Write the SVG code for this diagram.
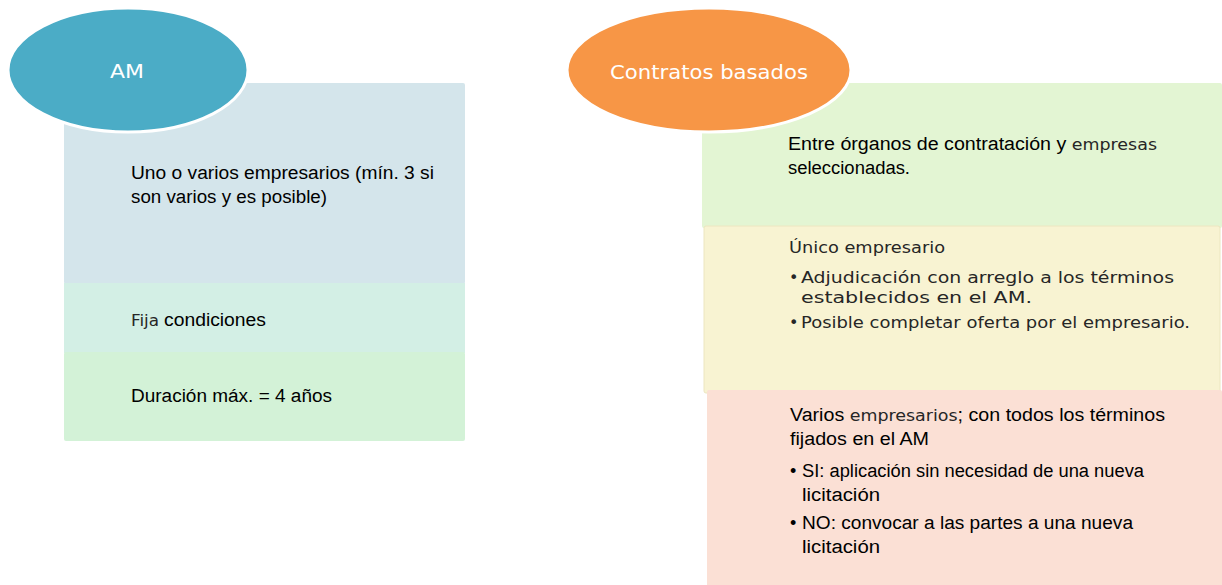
<svg xmlns="http://www.w3.org/2000/svg" width="1222" height="585" viewBox="0 0 1222 585">
<style>
.c{font-family:"Liberation Sans",Arial,sans-serif;font-size:18px;fill:#000}
.g{font-family:"DejaVu Sans","Liberation Sans",sans-serif;fill:#262626;font-size:16px}
.h{font-family:"DejaVu Sans","Liberation Sans",sans-serif;font-size:20px;fill:#fff}
.box{stroke:none}
.ell{stroke:#fff;stroke-width:3}
</style>
<rect width="1222" height="585" fill="#fff"/>
<g id="am-box1"><rect class="box" x="64" y="83" width="401" height="201" rx="2" fill="#d4e5eb"/>
<text class="c" x="131" y="179" textLength="303" lengthAdjust="spacingAndGlyphs">Uno o varios empresarios (mín. 3 si</text>
<text class="c" x="131" y="203" textLength="196" lengthAdjust="spacingAndGlyphs">son varios y es posible)</text></g>
<g id="am-box2"><rect class="box" x="64" y="283" width="401" height="70" fill="#d3efe5"/>
<text class="c" x="131" y="326"><tspan class="g" textLength="28" lengthAdjust="spacingAndGlyphs">Fija</tspan><tspan x="164" textLength="102" lengthAdjust="spacingAndGlyphs">condiciones</tspan></text></g>
<g id="am-box3"><rect class="box" x="64" y="352" width="401" height="89" rx="2" fill="#d3f2d7"/>
<text class="c" x="131" y="402" textLength="201" lengthAdjust="spacingAndGlyphs">Duración máx. = 4 años</text></g>
<g id="am"><ellipse class="ell" cx="128" cy="70" rx="120" ry="62" fill="#4bacc6"/>
<text class="h" x="127" y="78" text-anchor="middle" textLength="34" lengthAdjust="spacingAndGlyphs">AM</text></g>

<g id="cb-box1"><rect class="box" x="702" y="83" width="520" height="145" rx="2" fill="#e3f5d3"/>
<text class="c" x="788" y="150" textLength="369" lengthAdjust="spacingAndGlyphs">Entre órganos de contratación y <tspan class="g">empresas</tspan></text>
<text class="c" x="788" y="174" textLength="122" lengthAdjust="spacingAndGlyphs">seleccionadas.</text></g>
<g id="cb-box2"><rect x="704" y="226" width="516" height="167" rx="2" fill="#f8f3d2" stroke="#ece6c0" stroke-width="1"/>
<text class="g" x="789" y="253" textLength="156" lengthAdjust="spacingAndGlyphs">Único empresario</text>
<text class="g" x="789" y="283">•<tspan x="801" textLength="373" lengthAdjust="spacingAndGlyphs">Adjudicación con arreglo a los términos</tspan></text>
<text class="g" x="801" y="303" textLength="231" lengthAdjust="spacingAndGlyphs">establecidos en el AM.</text>
<text class="g" x="789" y="328">•<tspan x="801" textLength="389" lengthAdjust="spacingAndGlyphs">Posible completar oferta por el empresario.</tspan></text></g>
<g id="cb-box3"><rect class="box" x="707" y="390" width="515" height="200" rx="2" fill="#fbe0d5"/>
<text class="c" x="790" y="421" textLength="375" lengthAdjust="spacingAndGlyphs">Varios <tspan class="g">empresarios</tspan>; con todos los términos</text>
<text class="c" x="790" y="445" textLength="139" lengthAdjust="spacingAndGlyphs">fijados en el AM</text>
<text class="c" x="790" y="477">•<tspan x="802" textLength="342" lengthAdjust="spacingAndGlyphs">SI: aplicación sin necesidad de una nueva</tspan></text>
<text class="c" x="802" y="501" textLength="78" lengthAdjust="spacingAndGlyphs">licitación</text>
<text class="c" x="790" y="529">•<tspan x="802" textLength="331" lengthAdjust="spacingAndGlyphs">NO: convocar a las partes a una nueva</tspan></text>
<text class="c" x="802" y="553" textLength="78" lengthAdjust="spacingAndGlyphs">licitación</text></g>
<g id="cb"><ellipse class="ell" cx="709" cy="70" rx="142" ry="62" fill="#f79646"/>
<text class="h" x="709" y="79" text-anchor="middle" textLength="198" lengthAdjust="spacingAndGlyphs">Contratos basados</text></g>
<g id="connectors"/>
</svg>
